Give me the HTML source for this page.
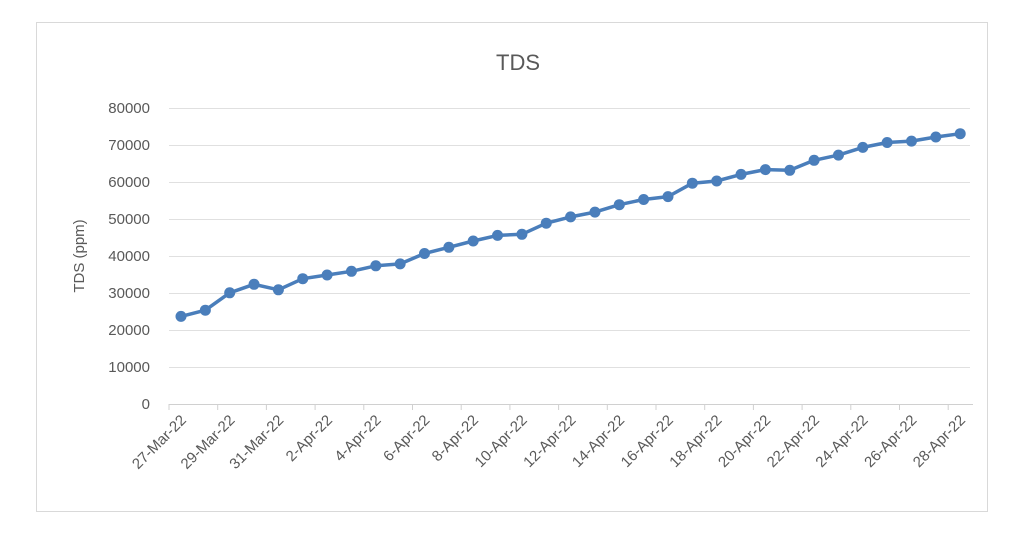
<!DOCTYPE html>
<html><head><meta charset="utf-8"><style>
body{margin:0;background:#fff;}
svg text{font-family:"Liberation Sans",sans-serif;fill:#595959;}
</style></head><body>
<svg width="1024" height="541" viewBox="0 0 1024 541" xmlns="http://www.w3.org/2000/svg">
<rect x="36.5" y="22.5" width="951" height="489" fill="#fff" stroke="#d9d9d9"/>
<text x="518" y="70" font-size="22" text-anchor="middle">TDS</text>
<g stroke="#e0e0e0" stroke-width="1">
<line x1="169" x2="970" y1="108.5" y2="108.5"/>
<line x1="169" x2="970" y1="145.5" y2="145.5"/>
<line x1="169" x2="970" y1="182.5" y2="182.5"/>
<line x1="169" x2="970" y1="219.5" y2="219.5"/>
<line x1="169" x2="970" y1="256.5" y2="256.5"/>
<line x1="169" x2="970" y1="293.5" y2="293.5"/>
<line x1="169" x2="970" y1="330.5" y2="330.5"/>
<line x1="169" x2="970" y1="367.5" y2="367.5"/>
</g>
<line x1="169" x2="973" y1="404.5" y2="404.5" stroke="#d0d0d0"/>
<g stroke="#d0d0d0">
<line x1="169" x2="169" y1="404" y2="410"/>
<line x1="217.7" x2="217.7" y1="404" y2="410"/>
<line x1="266.4" x2="266.4" y1="404" y2="410"/>
<line x1="315.1" x2="315.1" y1="404" y2="410"/>
<line x1="363.8" x2="363.8" y1="404" y2="410"/>
<line x1="412.5" x2="412.5" y1="404" y2="410"/>
<line x1="461.2" x2="461.2" y1="404" y2="410"/>
<line x1="509.9" x2="509.9" y1="404" y2="410"/>
<line x1="558.6" x2="558.6" y1="404" y2="410"/>
<line x1="607.3" x2="607.3" y1="404" y2="410"/>
<line x1="656" x2="656" y1="404" y2="410"/>
<line x1="704.7" x2="704.7" y1="404" y2="410"/>
<line x1="753.4" x2="753.4" y1="404" y2="410"/>
<line x1="802.1" x2="802.1" y1="404" y2="410"/>
<line x1="850.8" x2="850.8" y1="404" y2="410"/>
<line x1="899.5" x2="899.5" y1="404" y2="410"/>
<line x1="948.2" x2="948.2" y1="404" y2="410"/>
</g>
<g font-size="15" text-anchor="end">
<text x="150" y="113">80000</text>
<text x="150" y="150">70000</text>
<text x="150" y="187">60000</text>
<text x="150" y="224">50000</text>
<text x="150" y="261">40000</text>
<text x="150" y="298">30000</text>
<text x="150" y="335">20000</text>
<text x="150" y="372">10000</text>
<text x="150" y="409">0</text>
</g>
<text transform="translate(84,256) rotate(-90)" font-size="15" text-anchor="middle">TDS (ppm)</text>
<g font-size="15" text-anchor="end">
<text transform="translate(187,421) rotate(-45)">27-Mar-22</text>
<text transform="translate(235.7,421) rotate(-45)">29-Mar-22</text>
<text transform="translate(284.4,421) rotate(-45)">31-Mar-22</text>
<text transform="translate(333.1,421) rotate(-45)">2-Apr-22</text>
<text transform="translate(381.8,421) rotate(-45)">4-Apr-22</text>
<text transform="translate(430.5,421) rotate(-45)">6-Apr-22</text>
<text transform="translate(479.2,421) rotate(-45)">8-Apr-22</text>
<text transform="translate(527.9,421) rotate(-45)">10-Apr-22</text>
<text transform="translate(576.6,421) rotate(-45)">12-Apr-22</text>
<text transform="translate(625.3,421) rotate(-45)">14-Apr-22</text>
<text transform="translate(674,421) rotate(-45)">16-Apr-22</text>
<text transform="translate(722.7,421) rotate(-45)">18-Apr-22</text>
<text transform="translate(771.4,421) rotate(-45)">20-Apr-22</text>
<text transform="translate(820.1,421) rotate(-45)">22-Apr-22</text>
<text transform="translate(868.8,421) rotate(-45)">24-Apr-22</text>
<text transform="translate(917.5,421) rotate(-45)">26-Apr-22</text>
<text transform="translate(966.2,421) rotate(-45)">28-Apr-22</text>
</g>
<polyline fill="none" stroke="#4a7ebb" stroke-width="3.5" stroke-linejoin="round" points="181,316.4 205.35,310.2 229.7,292.8 254.05,284.3 278.4,289.8 302.75,278.7 327.1,275 351.45,271.3 375.8,265.8 400.15,263.9 424.5,253.5 448.85,247.3 473.2,241 497.55,235.4 521.9,234.3 546.25,223.2 570.6,216.9 594.95,212.1 619.3,204.7 643.65,199.5 668,196.6 692.35,183.2 716.7,181 741.05,174.4 765.4,169.6 789.75,170.3 814.1,160.3 838.45,155.1 862.8,147.4 887.15,142.5 911.5,141.1 935.85,137 960.2,133.7"/>
<g fill="#4a7ebb">
<circle cx="181" cy="316.4" r="5.5"/><circle cx="205.35" cy="310.2" r="5.5"/><circle cx="229.7" cy="292.8" r="5.5"/><circle cx="254.05" cy="284.3" r="5.5"/><circle cx="278.4" cy="289.8" r="5.5"/><circle cx="302.75" cy="278.7" r="5.5"/><circle cx="327.1" cy="275" r="5.5"/><circle cx="351.45" cy="271.3" r="5.5"/><circle cx="375.8" cy="265.8" r="5.5"/><circle cx="400.15" cy="263.9" r="5.5"/><circle cx="424.5" cy="253.5" r="5.5"/><circle cx="448.85" cy="247.3" r="5.5"/><circle cx="473.2" cy="241" r="5.5"/><circle cx="497.55" cy="235.4" r="5.5"/><circle cx="521.9" cy="234.3" r="5.5"/><circle cx="546.25" cy="223.2" r="5.5"/><circle cx="570.6" cy="216.9" r="5.5"/><circle cx="594.95" cy="212.1" r="5.5"/><circle cx="619.3" cy="204.7" r="5.5"/><circle cx="643.65" cy="199.5" r="5.5"/><circle cx="668" cy="196.6" r="5.5"/><circle cx="692.35" cy="183.2" r="5.5"/><circle cx="716.7" cy="181" r="5.5"/><circle cx="741.05" cy="174.4" r="5.5"/><circle cx="765.4" cy="169.6" r="5.5"/><circle cx="789.75" cy="170.3" r="5.5"/><circle cx="814.1" cy="160.3" r="5.5"/><circle cx="838.45" cy="155.1" r="5.5"/><circle cx="862.8" cy="147.4" r="5.5"/><circle cx="887.15" cy="142.5" r="5.5"/><circle cx="911.5" cy="141.1" r="5.5"/><circle cx="935.85" cy="137" r="5.5"/><circle cx="960.2" cy="133.7" r="5.5"/>
</g>
</svg>
</body></html>
